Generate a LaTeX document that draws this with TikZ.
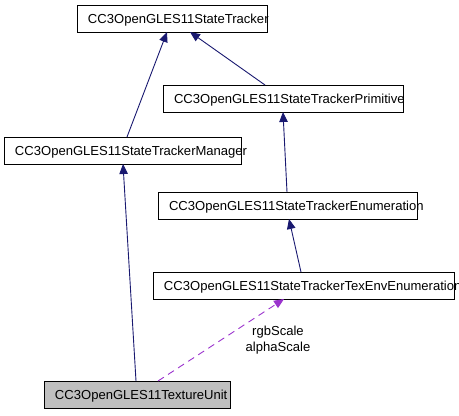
\documentclass[tikz,border=0pt]{standalone}
\usepackage{fontspec}
\setmainfont{Liberation Sans}
\usetikzlibrary{arrows.meta,calc}
\definecolor{edgeblue}{HTML}{191970}
\definecolor{usepurple}{HTML}{9A32CD}
\definecolor{boxgray}{HTML}{BFBFBF}
\begin{document}
\begin{tikzpicture}[x=1pt,y=-1pt,
  cls/.style={draw=black, line width=0.8pt, anchor=north west, minimum height=27pt,
    inner xsep=11pt, inner ysep=0pt, outer sep=0pt, align=left,
    font=\fontsize{13.05}{15}\selectfont, text height=10.7pt, text depth=1.3pt},
  inh/.style={draw=edgeblue, line width=0.9pt, -{Triangle[length=10pt,width=8.5pt,fill=edgeblue]}},
  usedep/.style={draw=usepurple, line width=0.9pt, dash pattern=on 7pt off 5pt,
    -{Triangle[length=10pt,width=8.5pt,fill=usepurple]}}]
\useasboundingbox (0,0) rectangle (459,416);
\node[cls, text width=168pt] (st) at (77,5) {CC3OpenGLES11StateTracker};
\node[cls, text width=218pt] (prim) at (163,85) {CC3OpenGLES11StateTrackerPrimitive};
\node[cls, text width=215pt] (mgr) at (4,137) {CC3OpenGLES11StateTrackerManager};
\node[cls, text width=237pt] (enum) at (158,192) {CC3OpenGLES11StateTrackerEnumeration};
\node[cls, text width=279pt] (texenv) at (153,272) {CC3OpenGLES11StateTrackerTexEnvEnumeration};
\node[cls, fill=boxgray, text width=164pt] (tu) at (44,381) {CC3OpenGLES11TextureUnit};
\draw[inh] ([xshift=123pt]mgr.north west) -- ([xshift=90pt]st.south west);
\draw[inh] ([xshift=102pt]prim.north west) -- ([xshift=113pt]st.south west);
\draw[inh] ([xshift=129pt]enum.north west) -- ([xshift=120pt]prim.south west);
\draw[inh] ([xshift=92pt]tu.north west) -- ([xshift=119pt]mgr.south west);
\draw[inh] ([xshift=148pt]texenv.north west) -- ([xshift=131pt]enum.south west);
\draw[usedep] ([xshift=114pt]tu.north west) -- ([xshift=131pt]texenv.south west);
\node[font=\fontsize{13.05}{16}\selectfont, align=center, inner sep=0pt] (lbl) at (278,340) {rgbScale\\alphaScale};
\end{tikzpicture}
\end{document}
